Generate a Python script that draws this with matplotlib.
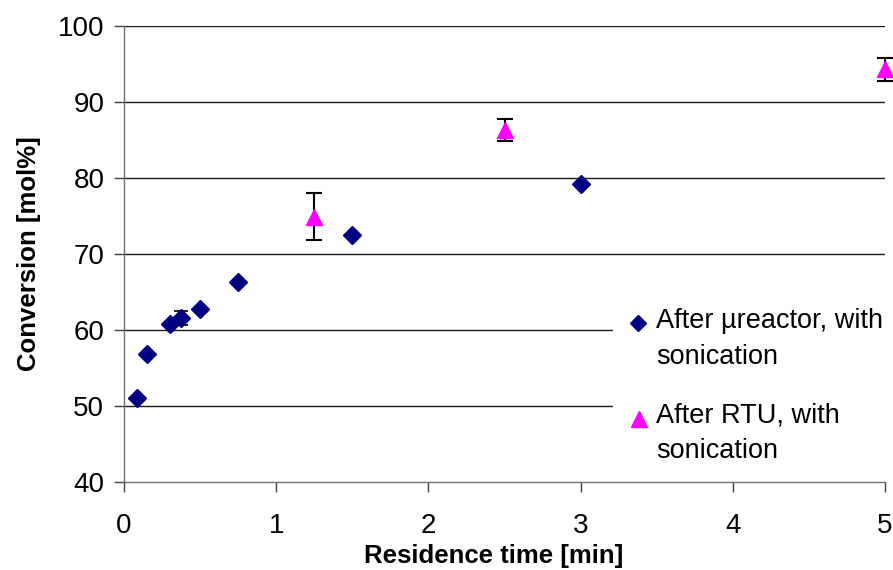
import matplotlib
matplotlib.use("Agg")
import matplotlib.pyplot as plt
from matplotlib.lines import Line2D
from matplotlib.patches import Rectangle

plt.rcParams['font.family'] = ['Liberation Sans', 'DejaVu Sans']

# Residence time [min] and conversion [mol%]
t_reactor = [0.0833, 0.15, 0.30, 0.375, 0.50, 0.75, 1.5, 3.0]
conv_reactor = [51.0, 56.8, 60.8, 61.6, 62.8, 66.3, 72.5, 79.2]
err_reactor = [0.0, 0.0, 0.0, 0.9, 0.0, 0.0, 0.0, 0.0]

t_rtu = [1.25, 2.5, 5.0]
conv_rtu = [74.9, 86.3, 94.3]
err_rtu = [3.1, 1.4, 1.5]

label_reactor = "After \u00b5reactor, with\nsonication"
label_rtu = "After RTU, with\nsonication"

xticks = [0, 1, 2, 3, 4, 5]
yticks = [40, 50, 60, 70, 80, 90, 100]

W, H = 893, 570
fig = plt.figure(figsize=(W / 100, H / 100), dpi=100)
ax = fig.add_axes([124 / W, 1 - 482 / H, (885 - 124) / W, (482 - 26) / H])


def fx(px):
    return px / W


def fy(py):
    return 1 - py / H


ax.set_xlim(0, 5)
ax.set_ylim(40, 100)
ax.set_xticks(xticks)
ax.set_yticks(yticks)
ax.set_xticklabels([str(v) for v in xticks])
ax.set_yticklabels([str(v) for v in yticks])

for y in yticks[1:]:
    ax.axhline(y, color='#1a1a1a', lw=1.0, zorder=1)

for s in ['top', 'right']:
    ax.spines[s].set_visible(False)
for s in ['left', 'bottom']:
    ax.spines[s].set_color('#707070')
    ax.spines[s].set_linewidth(1.0)

ax.tick_params(axis='both', direction='out', length=7.2, width=1.0,
               color='#404040', labelsize=20)
ax.tick_params(axis='y', pad=7)
ax.tick_params(axis='x', pad=15)

ax.errorbar(t_reactor, conv_reactor, yerr=err_reactor, fmt='none',
            ecolor='black', elinewidth=1.2, capsize=5, capthick=1.2,
            zorder=3, clip_on=False)
ax.plot(t_reactor, conv_reactor, linestyle='none', marker='D', markersize=9,
        color='#000080', zorder=4, clip_on=False)

ax.errorbar(t_rtu, conv_rtu, yerr=err_rtu, fmt='none',
            ecolor='black', elinewidth=1.5, capsize=5.5, capthick=1.5,
            zorder=3, clip_on=False)
ax.plot(t_rtu, conv_rtu, linestyle='none', marker='^', markersize=12,
        color='#FF00FF', zorder=4, clip_on=False)

ax.set_xlabel("Residence time [min]", fontsize=18.5, fontweight='bold')
ax.xaxis.set_label_coords(0.486, -0.137)
ax.set_ylabel("Conversion [mol%]", fontsize=18.5, fontweight='bold', labelpad=12)

# Legend block: white panel over the gridlines, markers and wrapped labels
ax.add_patch(Rectangle((fx(613), fy(474)), fx(W) - fx(613), fy(294) - fy(474),
                       transform=fig.transFigure, facecolor='white',
                       edgecolor='none', zorder=2, clip_on=False))
fig.add_artist(Line2D([fx(638)], [fy(322.5)], linestyle='none', marker='D',
                      markersize=8.5, color='#000080', transform=fig.transFigure))
fig.add_artist(Line2D([fx(639)], [fy(418.5)], linestyle='none', marker='^',
                      markersize=11, color='#FF00FF', transform=fig.transFigure))
# baseline alignment of wrapped text refers to the last line here
fig.text(fx(656), fy(363.5), label_reactor, fontsize=19.5, va='baseline',
         ha='left', linespacing=1.5)
fig.text(fx(656), fy(458.5), label_rtu, fontsize=19.5, va='baseline',
         ha='left', linespacing=1.5)

fig.savefig("out.png", dpi=100)
